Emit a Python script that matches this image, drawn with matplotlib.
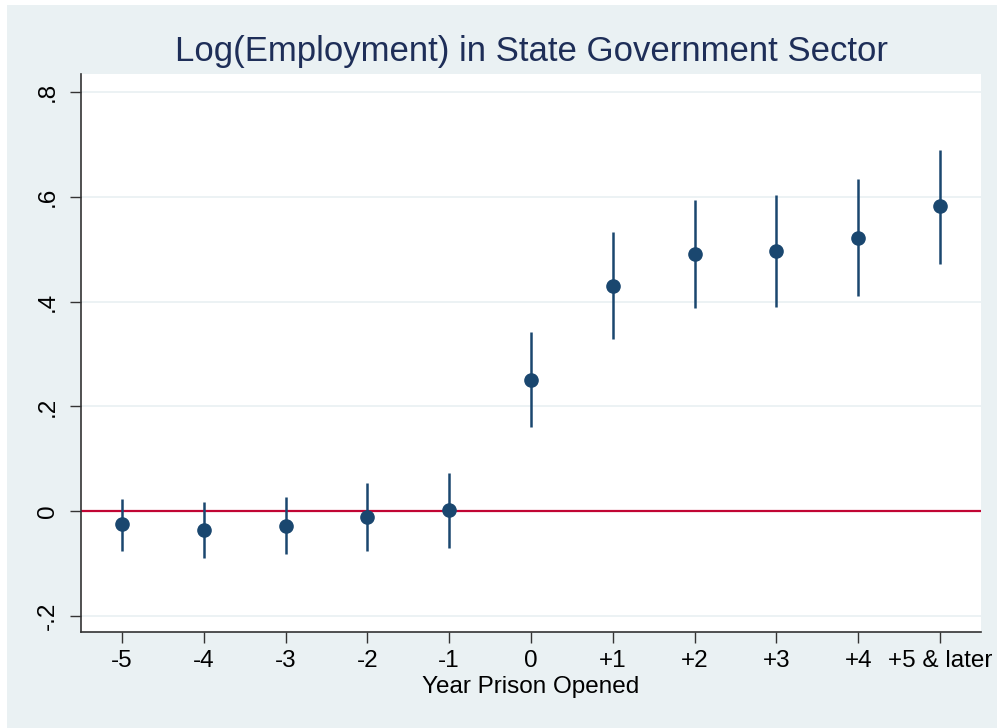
import matplotlib
matplotlib.use("Agg")
import matplotlib.pyplot as plt
from matplotlib.patches import Rectangle

plt.rcParams['font.family'] = ['Liberation Sans', 'DejaVu Sans']

# Event-study estimates: year relative to prison opening
categories = ["-5", "-4", "-3", "-2", "-1", "0", "+1", "+2", "+3", "+4", "+5 & later"]
estimates = [-0.025, -0.035, -0.027, -0.011, 0.003, 0.251, 0.430, 0.490, 0.496, 0.522, 0.582]
ci_upper = [0.024, 0.018, 0.028, 0.055, 0.074, 0.342, 0.532, 0.593, 0.603, 0.633, 0.690]
ci_lower = [-0.075, -0.088, -0.081, -0.075, -0.069, 0.161, 0.328, 0.387, 0.390, 0.410, 0.472]
y_ticks = [-0.2, 0.0, 0.2, 0.4, 0.6, 0.8]
y_tick_labels = ["-.2", "0", ".2", ".4", ".6", ".8"]

BG = "#EAF1F3"
NAVY = "#1A476F"
CRANBERRY = "#C10534"

fig = plt.figure(figsize=(9.97, 7.28), dpi=100, facecolor="white")
fig.add_artist(Rectangle((7 / 997, 0), 1 - 7 / 997, 1 - 5 / 728,
                         transform=fig.transFigure, facecolor=BG,
                         edgecolor="none", zorder=-10))

ax = fig.add_axes([81 / 997, 1 - 632 / 728, 900 / 997, (632 - 74) / 728])
ax.set_facecolor("white")

x = list(range(len(categories)))

for yv in y_ticks:
    if yv != 0:
        ax.axhline(yv, color=BG, lw=1.3, zorder=1)
ax.axhline(0, color=CRANBERRY, lw=1.6, zorder=2)

ax.vlines(x, ci_lower, ci_upper, color=NAVY, lw=1.8, zorder=3)
ax.plot(x, estimates, 'o', color=NAVY, markersize=9.5, zorder=4, linestyle='none')

ax.set_xlim(-0.5, 10.5)
ax.set_ylim(-0.23, 0.834)

ax.set_xticks(x)
ax.set_xticklabels(categories, fontsize=17.5)
ax.set_yticks(y_ticks)
ax.set_yticklabels(y_tick_labels, fontsize=17.5, rotation=90, va="center")

ax.tick_params(axis="both", direction="out", length=8, width=1.0, color="#333333",
               labelcolor="black")
ax.tick_params(axis="x", pad=5)
ax.tick_params(axis="y", pad=8)

for side in ("top", "right"):
    ax.spines[side].set_visible(False)
for side in ("left", "bottom"):
    ax.spines[side].set_color("#333333")
    ax.spines[side].set_linewidth(1.2)

ax.set_xlabel("Year Prison Opened", fontsize=17.5, labelpad=3)
ax.set_title("Log(Employment) in State Government Sector", fontsize=25,
             color="#1E2E58", pad=9)

fig.savefig("out.png", dpi=100, facecolor=fig.get_facecolor())
